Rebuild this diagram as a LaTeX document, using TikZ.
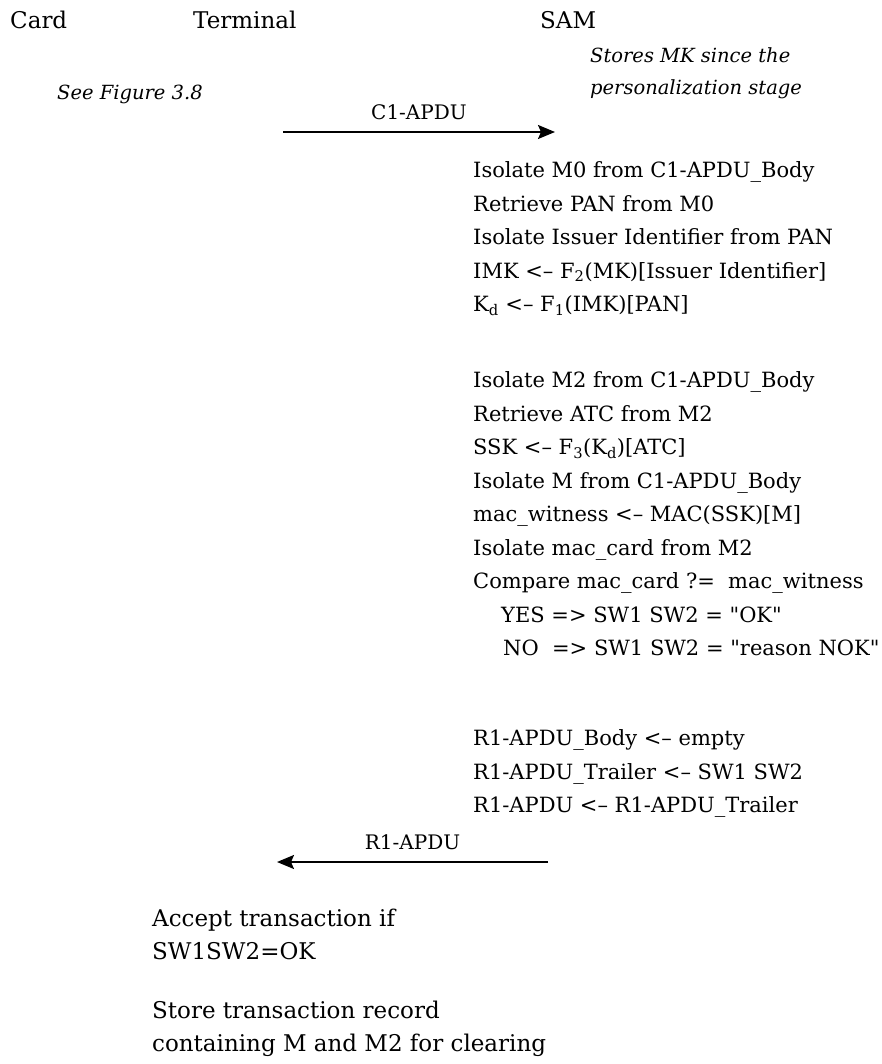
\documentclass[tikz,border=0pt]{standalone}
\usepackage{fontspec}
\setmainfont{DejaVu Serif}
\newfontfamily\plainfont{DejaVu Serif}
\newcommand\qm{{\plainfont\symbol{34}}}
\usetikzlibrary{arrows.meta,positioning}

\begin{document}
\begin{tikzpicture}[x=1pt,y=-1pt, every node/.style={inner sep=0pt,font=\fontsize{23}{34}\selectfont},
  txt/.style={anchor=north west,align=left},
  note/.style={txt,font=\fontsize{19.5}{32}\selectfont\itshape},
  msg/.style={line width=1.8pt,-{Stealth[length=17pt,width=14pt,inset=3pt]}},
  lbl/.style={font=\fontsize{20}{24}\selectfont}]
\useasboundingbox (0,0) rectangle (881,1064);
\node[txt] (card) at (10,11) {Card};
\node[txt] (term) at (193,11) {Terminal};
\node[txt] (sam) at (540,11) {SAM};
\node[note] (mk) at (590,47) {Stores MK since the\\personalization stage};
\node[note] (fig) at (57,85) {See Figure 3.8};
\coordinate (c1a) at (283,132); \coordinate (c1b) at (555,132);
\draw[msg] (c1a) -- node[lbl,above=11pt] (c1) {C1-APDU} (c1b);
\node[txt,font=\fontsize{21}{33.5}\selectfont] (samwork) at (473,161.5) {Isolate M0 from C1-APDU\_Body\\
Retrieve PAN from M0\\
Isolate Issuer Identifier from PAN\\
IMK <-- F\textsubscript{2}(MK)[Issuer Identifier]\\
K\textsubscript{d} <-- F\textsubscript{1}(IMK)[PAN]\\[42.5pt]
Isolate M2 from C1-APDU\_Body\\
Retrieve ATC from M2\\
SSK <-- F\textsubscript{3}(K\textsubscript{d})[ATC]\\
Isolate M from C1-APDU\_Body\\
mac\_witness <-- MAC(SSK)[M]\\
Isolate mac\_card from M2\\
Compare mac\_card ?=\ \ mac\_witness\\
\hspace*{28pt}YES => SW1 SW2 = \qm OK\qm\\
\hspace*{30pt}NO\ \ => SW1 SW2 = \qm reason NOK\qm\\[56.5pt]
R1-APDU\_Body <-- empty\\
R1-APDU\_Trailer <-- SW1 SW2\\
R1-APDU <-- R1-APDU\_Trailer};
\coordinate (r1a) at (548,862); \coordinate (r1b) at (277,862);
\draw[msg] (r1a) -- node[lbl,above=11pt] (r1) {R1-APDU} (r1b);
\node[txt,font=\fontsize{23}{32.5}\selectfont] (accept) at (152,909) {Accept transaction if\\SW1SW2=OK};
\node[txt,font=\fontsize{23}{32.5}\selectfont] (store) at (152,1001) {Store transaction record\\containing M and M2 for clearing};
\end{tikzpicture}
\end{document}
